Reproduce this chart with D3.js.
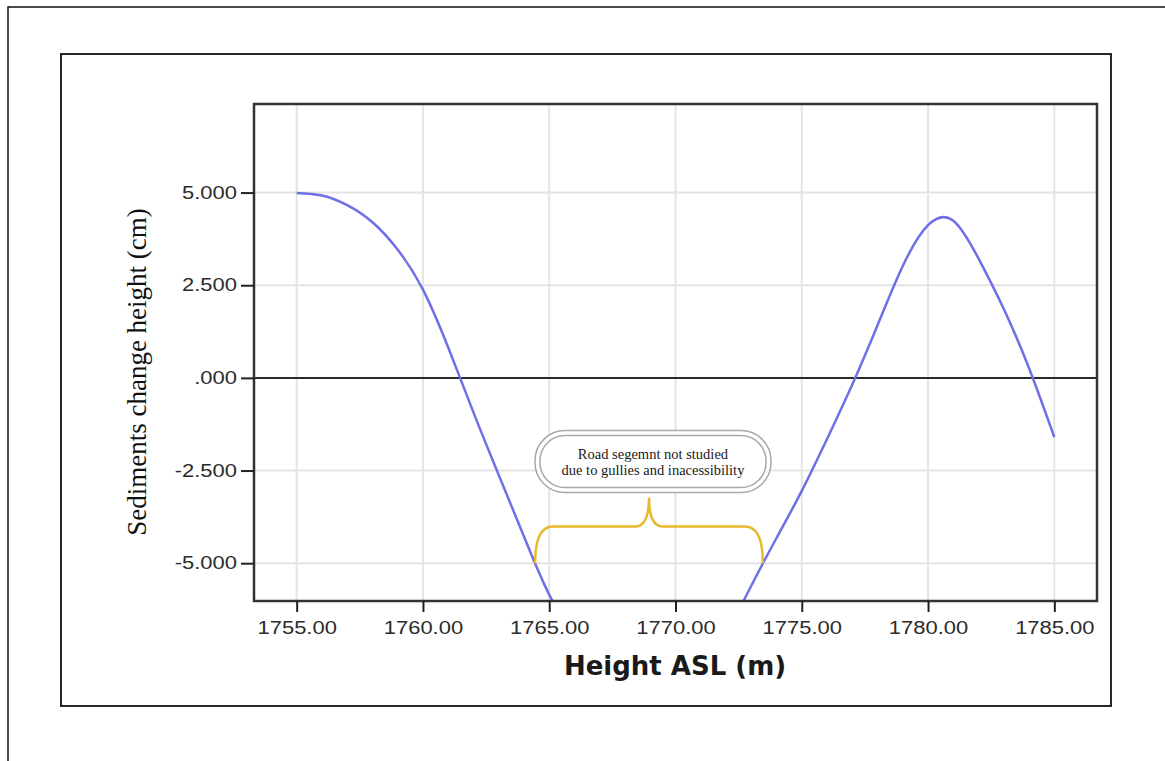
<!DOCTYPE html>
<html>
<head>
<meta charset="utf-8">
<script src="https://cdn.jsdelivr.net/npm/d3@7"></script>
<style>
  body { margin: 0; background: #fff; }
  .tick text { font-family: "Liberation Sans", Arial, sans-serif; font-size: 18px; fill: #2b2b2b; }
  .tick line { stroke: #222; stroke-width: 2; }
</style>
</head>
<body>
<div id="chart"></div>
<script>
// Input data (fit line)
const heights = [1755, 1756, 1757, 1758, 1759, 1760, 1761, 1762, 1763, 1764, 1765,
  1766, 1767, 1768, 1769, 1770, 1771, 1772, 1773, 1774, 1775,
  1776, 1777, 1778, 1779, 1780, 1781, 1782, 1783, 1784, 1785];
const sedimentChange = [4.99, 4.92, 4.66, 4.20, 3.46, 2.38, 0.82, -0.93, -2.62, -4.28, -5.85,
  -6.90, -7.65, -8.10, -8.30, -8.20, -7.80, -6.90, -5.61, -4.32, -3.05,
  -1.65, -0.18, 1.42, 3.02, 4.12, 4.24, 3.22, 1.86, 0.26, -1.60];
const xTicks = [1755, 1760, 1765, 1770, 1775, 1780, 1785];
const yTicks = [-5, -2.5, 0, 2.5, 5];

// Gap annotation (brace ends sit on the curve at -5)
const gapRange = [1764.44, 1773.46];
const gapLevels = [-5.0, -4.01, -3.23];   // ends, brace bar, brace tip
const noteLines = ['Road segemnt not studied', 'due to gullies and inacessibility'];

const width = 1165;
const height = 761;
const plot = { left: 254, right: 1097, top: 104, bottom: 601 };

const svg = d3.select('#chart')
  .append('svg')
  .attr('width', width)
  .attr('height', height);

// Page frames
svg.append('rect')
  .attr('x', 8).attr('y', 7)
  .attr('width', 1300).attr('height', 900)
  .attr('fill', 'none').attr('stroke', '#111').attr('stroke-width', 1.5);

svg.append('rect')
  .attr('x', 61).attr('y', 54)
  .attr('width', 1050).attr('height', 652)
  .attr('fill', 'none').attr('stroke', '#111').attr('stroke-width', 1.8);

// Scales
const x = d3.scaleLinear().domain([1753.31, 1786.69]).range([plot.left, plot.right]);
const y = d3.scaleLinear().domain([-6.02, 7.39]).range([plot.bottom, plot.top]);

// Grid
const grid = svg.append('g').attr('stroke', '#e4e4e4').attr('stroke-width', 2);
grid.selectAll('line.v')
  .data(xTicks)
  .enter()
  .append('line')
  .attr('class', 'v')
  .attr('x1', d => x(d)).attr('x2', d => x(d))
  .attr('y1', plot.top).attr('y2', plot.bottom);
grid.selectAll('line.h')
  .data(yTicks.filter(d => d !== 0))
  .enter()
  .append('line')
  .attr('class', 'h')
  .attr('x1', plot.left).attr('x2', plot.right)
  .attr('y1', d => y(d)).attr('y2', d => y(d));

// Zero reference line
svg.append('line')
  .attr('x1', plot.left).attr('x2', plot.right)
  .attr('y1', y(0)).attr('y2', y(0))
  .attr('stroke', '#2a2a2a').attr('stroke-width', 2);

// Fit line, clipped to the plot
svg.append('clipPath')
  .attr('id', 'plot-clip')
  .append('rect')
  .attr('x', plot.left).attr('y', plot.top)
  .attr('width', plot.right - plot.left).attr('height', plot.bottom - plot.top);

const line = d3.line()
  .x((d, i) => x(heights[i]))
  .y(d => y(d))
  .curve(d3.curveNatural);

svg.append('path')
  .datum(sedimentChange)
  .attr('clip-path', 'url(#plot-clip)')
  .attr('fill', 'none')
  .attr('stroke', '#6f6fe8')
  .attr('stroke-width', 2.5)
  .attr('d', line);

// Plot frame
svg.append('rect')
  .attr('x', plot.left).attr('y', plot.top)
  .attr('width', plot.right - plot.left).attr('height', plot.bottom - plot.top)
  .attr('fill', 'none').attr('stroke', '#333').attr('stroke-width', 2.5);

// Axes
const xAxis = svg.append('g')
  .attr('transform', `translate(0,${plot.bottom})`)
  .call(d3.axisBottom(x).tickValues(xTicks).tickFormat(d => d.toFixed(2)).tickSize(11).tickPadding(9));

const yAxis = svg.append('g')
  .attr('transform', `translate(${plot.left},0)`)
  .call(d3.axisLeft(y).tickValues(yTicks).tickFormat(d => d.toFixed(3).replace(/^0/, '')).tickSize(13).tickPadding(4));

xAxis.select('.domain').remove();
yAxis.select('.domain').remove();

// the source picture is stretched sideways, widen labels to match
svg.selectAll('.tick text').each(function () {
  const w = this.getComputedTextLength();
  d3.select(this).attr('textLength', w * 1.22).attr('lengthAdjust', 'spacingAndGlyphs');
});

// Axis titles
svg.append('text')
  .attr('x', (plot.left + plot.right) / 2 - 0.5)
  .attr('y', 675)
  .attr('text-anchor', 'middle')
  .attr('font-family', '"DejaVu Sans", Verdana, sans-serif')
  .attr('font-weight', 'bold')
  .attr('font-size', 26)
  .attr('fill', '#1a1a1a')
  .text('Height ASL (m)');

svg.append('text')
  .attr('transform', 'translate(146,372) rotate(-90)')
  .attr('text-anchor', 'middle')
  .attr('font-family', '"Liberation Serif", "Times New Roman", serif')
  .attr('font-size', 27)
  .attr('fill', '#111')
  .text('Sediments change height (cm)');

// Brace over the unstudied segment
const bx0 = x(gapRange[0]);
const bx1 = x(gapRange[1]);
const bm = (bx0 + bx1) / 2;
const yEnd = y(gapLevels[0]);
const yBar = y(gapLevels[1]);
const yTip = y(gapLevels[2]);

const brace = d3.path();
brace.moveTo(bx0, yEnd);
brace.quadraticCurveTo(bx0, yBar, bx0 + 18, yBar);
brace.lineTo(bm - 14, yBar);
brace.quadraticCurveTo(bm, yBar, bm, yTip);
brace.quadraticCurveTo(bm, yBar, bm + 14, yBar);
brace.lineTo(bx1 - 18, yBar);
brace.quadraticCurveTo(bx1, yBar, bx1, yEnd);

svg.append('path')
  .attr('d', brace.toString())
  .attr('fill', 'none')
  .attr('stroke', '#e8b92a')
  .attr('stroke-width', 2.5);

// Note box
const boxW = 236;
const boxH = 62;
const boxX = bm + 4 - boxW / 2;
const boxY = yTip - 5 - boxH;

svg.append('rect')
  .attr('x', boxX).attr('y', boxY)
  .attr('width', boxW).attr('height', boxH)
  .attr('rx', 30).attr('ry', 30)
  .attr('fill', '#fff').attr('stroke', '#a8a8a8').attr('stroke-width', 1.5);

svg.append('rect')
  .attr('x', boxX + 5).attr('y', boxY + 5)
  .attr('width', boxW - 10).attr('height', boxH - 10)
  .attr('rx', 25).attr('ry', 25)
  .attr('fill', 'none').attr('stroke', '#a8a8a8').attr('stroke-width', 1.5);

svg.append('g')
  .selectAll('text')
  .data(noteLines)
  .enter()
  .append('text')
  .attr('x', boxX + boxW / 2)
  .attr('y', (d, i) => boxY + 28 + i * 16)
  .attr('text-anchor', 'middle')
  .attr('font-family', '"Liberation Serif", "Times New Roman", serif')
  .attr('font-size', 14.5)
  .attr('fill', '#1a1a1a')
  .text(d => d);
</script>
</body>
</html>
